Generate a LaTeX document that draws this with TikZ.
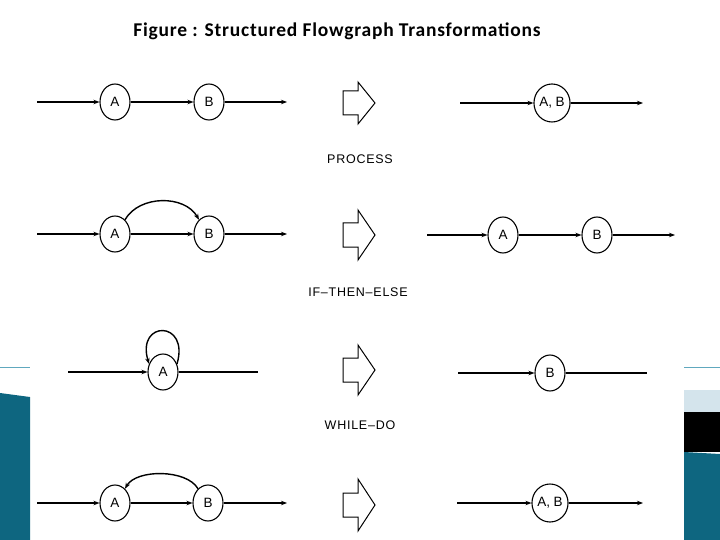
\documentclass[tikz,border=0pt]{standalone}
\usepackage{fontspec}
\setmainfont{Liberation Sans}
\newfontfamily\titlefont[LetterSpace=4]{Carlito}
\newfontfamily\capfont[LetterSpace=6]{Liberation Sans}
\usetikzlibrary{arrows.meta,shapes.geometric}
\definecolor{slideteal}{RGB}{14,102,128}
\definecolor{slideline}{RGB}{96,168,190}
\definecolor{slidepale}{RGB}{212,228,236}
\tikzset{
  blk/.style={draw,ellipse,line width=1.1pt,minimum width=30pt,minimum height=36pt,inner sep=0pt,font=\fontsize{13.5}{14}\selectfont},
  wideblk/.style={blk,minimum width=32pt,minimum height=38pt},
  flow/.style={line width=1.4pt,-{Stealth[length=6pt,width=4.5pt]}},
  plain/.style={line width=1.4pt},
  fatarrow/.style={draw,line width=1pt,line join=miter},
  caption/.style={font=\capfont\fontsize{12.5}{13}\selectfont}
}
\begin{document}
\begin{tikzpicture}[x=1pt,y=-1pt]
    \useasboundingbox (0,0) rectangle (720,540);
    % slide background
    \fill[slideteal] (0,393) -- (30,397) -- (30,540) -- (0,540) -- cycle;
    \fill[slidepale] (684,390) rectangle (720,412);
    \fill[black] (684,412) rectangle (720,452);
    \fill[slideteal] (684,452) -- (720,454) -- (720,540) -- (684,540) -- cycle;
    \draw[slideline,line width=0.8pt] (0,367) -- (30,367);
    \draw[slideline,line width=0.8pt] (684,367) -- (720,367);
    \node[font=\titlefont\bfseries\fontsize{19.5}{21}\selectfont] (title) at (337,31) {Figure : Structured Flowgraph Transformations};
    % transformation arrows
    \foreach \y/\h in {103/21,235/25,370/25,505/26}
        \draw[fatarrow] (343,\y-12) -- (358,\y-12) -- (358,\y-\h) -- (375,\y) -- (358,\y+\h) -- (358,\y+12) -- (343,\y+12) -- cycle;
    % process
    \coordinate (s1) at (37,102);
    \node[blk] (A1) at (115,102) {A};
    \node[blk] (B1) at (209,102) {B};
    \coordinate (e1) at (287,102);
    \draw[flow] (s1) to (A1);
    \draw[flow] (A1) to (B1);
    \draw[flow] (B1) to (e1);
    \node[caption] (process) at (360,159) {PROCESS};
    \coordinate (rs1) at (460,103);
    \node[wideblk] (AB1) at (552,103) {A, B};
    \coordinate (re1) at (643,103);
    \draw[flow] (rs1) to (AB1);
    \draw[flow] (AB1) to (re1);
    % if-then-else
    \coordinate (s2) at (37,234);
    \node[blk] (A2) at (115,234) {A};
    \node[blk] (B2) at (209,234) {B};
    \coordinate (e2) at (287,234);
    \draw[flow] (s2) to (A2);
    \draw[flow] (A2) to (B2);
    \draw[flow] (A2.55) to[out=60,in=120] (B2.125);
    \draw[flow] (B2) to (e2);
    \node[caption] (ifthen) at (358,292) {IF\textendash THEN\textendash ELSE};
    \coordinate (rs2) at (427,235);
    \node[blk] (RA2) at (503,235) {A};
    \node[blk] (RB2) at (597,235) {B};
    \coordinate (re2) at (675,235);
    \draw[flow] (rs2) to (RA2);
    \draw[flow] (RA2) to (RB2);
    \draw[flow] (RB2) to (re2);
    % while-do
    \coordinate (s3) at (68,372);
    \node[blk] (A3) at (163,372) {A};
    \coordinate (e3) at (258,372);
    \draw[flow] (s3) to (A3);
    \draw[flow] (A3.30) .. controls (190,320) and (136,320) .. (A3.150);
    \draw[plain] (A3) to (e3);
    \node[caption] (whiledo) at (360,425) {WHILE\textendash DO};
    \coordinate (rs3) at (458,373);
    \node[blk] (RB3) at (550,373) {B};
    \coordinate (re3) at (647,373);
    \draw[flow] (rs3) to (RB3);
    \draw[plain] (RB3) to (re3);
    % repeat-until
    \coordinate (s4) at (37,503);
    \node[blk] (A4) at (115,503) {A};
    \node[blk] (B4) at (208,503) {B};
    \coordinate (e4) at (287,503);
    \draw[flow] (s4) to (A4);
    \draw[flow] (A4) to (B4);
    \draw[flow] (B4.125) to[out=120,in=60,looseness=0.8] (A4.55);
    \draw[flow] (B4) to (e4);
    \coordinate (rs4) at (457,503);
    \node[wideblk] (AB4) at (550,503) {A, B};
    \coordinate (re4) at (643,503);
    \draw[flow] (rs4) to (AB4);
    \draw[flow] (AB4) to (re4);
\end{tikzpicture}
\end{document}
